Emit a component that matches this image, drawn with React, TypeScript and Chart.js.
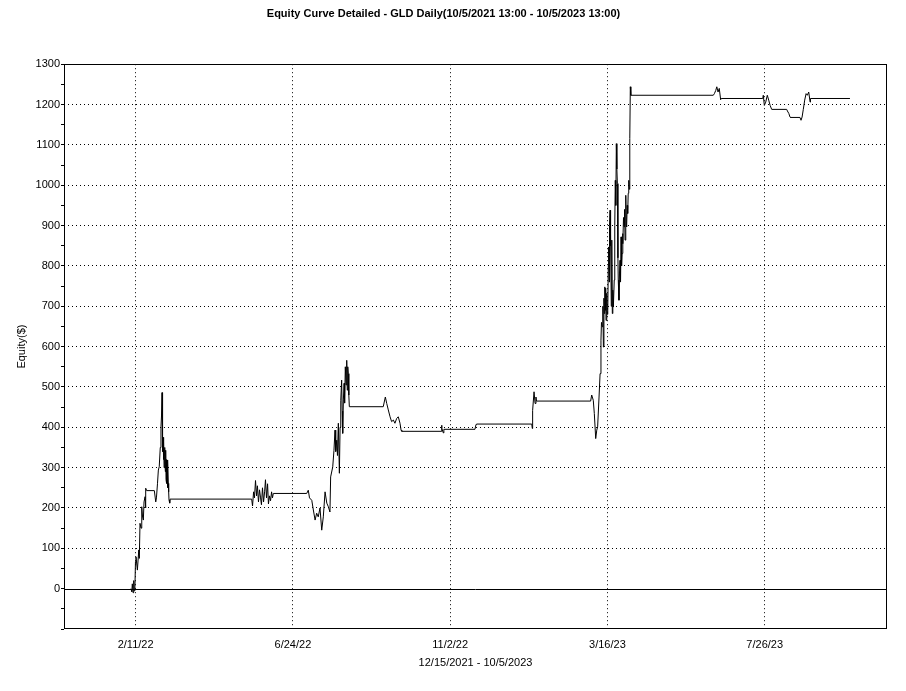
import React, { useEffect, useRef } from "react";
import { Chart, registerables } from "chart.js";

Chart.register(...registerables);

// Bar index (trading days since 12/15/2021) and equity ($)
const barIndex: number[] = [
  38.3, 38.8, 39.1, 39.5, 39.9, 40.2, 40.6, 40.9, 41.2, 42.0,
  42.8, 43.1, 43.5, 44.1, 44.5, 44.9, 45.4, 45.8, 46.4, 46.6,
  46.9, 47.3, 51.7, 52.5, 52.9, 53.5, 54.0, 54.5, 55.1, 55.5,
  55.8, 56.1, 56.3, 56.5, 56.7, 56.9, 57.1, 57.3, 57.5, 57.8,
  58.0, 58.2, 58.4, 58.6, 58.8, 59.0, 59.2, 59.4, 59.7, 59.9,
  60.1, 60.5, 60.7, 107.4, 107.9, 108.5, 109.0, 109.6, 110.2, 110.7,
  111.3, 111.9, 112.5, 113.0, 113.6, 114.2, 114.8, 115.3, 115.9, 116.5,
  117.0, 117.6, 118.2, 118.8, 119.3, 119.8, 138.9, 139.8, 140.5, 141.8,
  142.7, 143.7, 144.6, 145.5, 146.5, 147.5, 148.4, 149.4, 150.4, 151.3,
  152.2, 152.6, 153.8, 154.5, 155.1, 155.5, 156.1, 156.5, 157.0, 157.6,
  158.0, 158.4, 158.9, 159.2, 159.5, 159.9, 160.3, 160.6, 161.0, 161.4,
  161.8, 162.1, 162.4, 162.7, 163.0, 163.3, 182.7, 183.9, 184.7, 185.6,
  186.6, 187.5, 188.5, 189.4, 190.4, 191.3, 192.3, 192.9, 193.3, 215.8,
  216.1, 216.3, 217.1, 217.4, 235.2, 235.8, 236.1, 267.7, 268.0, 268.2,
  269.0, 269.6, 270.1, 270.4, 301.4, 302.0, 302.9, 303.5, 304.3, 304.9,
  305.4, 306.2, 306.8, 307.3, 307.6, 308.1, 308.4, 308.7, 309.0, 309.2,
  309.5, 309.8, 310.0, 310.2, 310.6, 310.9, 311.2, 311.5, 311.7, 312.0,
  312.2, 312.5, 312.7, 312.9, 313.2, 313.5, 313.8, 314.1, 314.4, 314.9,
  315.2, 315.5, 315.8, 316.1, 316.4, 316.7, 317.0, 317.2, 317.6, 317.9,
  318.2, 318.5, 318.8, 319.1, 319.4, 319.7, 319.9, 320.2, 320.5, 320.8,
  321.1, 321.5, 321.8, 322.0, 322.3, 322.6, 322.9, 323.2, 323.5, 323.8,
  324.1, 324.4, 371.6, 372.2, 373.0, 373.6, 374.3, 375.0, 375.8, 376.1,
  399.9, 400.2, 400.8, 401.6, 402.5, 403.3, 404.1, 405.0, 413.6, 414.0,
  414.8, 415.5, 415.8, 421.2, 421.8, 422.4, 423.1, 423.9, 424.7, 425.4,
  426.2, 427.0, 427.2, 449.8,
];

const equity: number[] = [
  0, -8, 12, -10, 20, -5, 5, 67, 79, 46,
  96, 75, 162, 150, 203, 180, 170, 215, 228, 200,
  249, 243, 243, 215, 225, 260, 294, 302, 350, 401,
  428, 486, 393, 340, 375, 320, 364, 300, 350, 327,
  290, 343, 270, 320, 261, 300, 250, 319, 261, 240,
  220, 212, 222, 222, 205, 240, 225, 268, 230, 255,
  215, 245, 225, 208, 250, 215, 240, 270, 225, 260,
  210, 230, 218, 240, 225, 236, 236, 244, 225, 219,
  195, 170, 187, 178, 200, 145, 178, 240, 212, 203,
  190, 277, 302, 343, 393, 340, 368, 330, 410, 286,
  400, 467, 517, 440, 385, 470, 509, 460, 550, 505,
  566, 492, 550, 533, 480, 451, 451, 475, 459, 443,
  426, 414, 418, 410, 422, 426, 410, 393, 390, 390,
  405, 397, 386, 395, 395, 407, 408, 408, 397, 442,
  488, 459, 475, 465, 465, 480, 467, 434, 372, 393,
  401, 475, 533, 616, 660, 649, 700, 599, 720, 682,
  748, 690, 745, 665, 732, 680, 690, 800, 847, 760,
  900, 938, 850, 880, 700, 864, 682, 740, 698, 765,
  900, 1012, 950, 1103, 1040, 1004, 820, 765, 715, 780,
  814, 760, 872, 800, 831, 880, 855, 920, 897, 940,
  864, 975, 900, 897, 950, 930, 980, 1012, 990, 1116,
  1244, 1223, 1223, 1227, 1235, 1244, 1231, 1240, 1212, 1215,
  1215, 1223, 1198, 1206, 1223, 1211, 1198, 1188, 1188, 1184,
  1178, 1169, 1168, 1168, 1161, 1169, 1188, 1211, 1227, 1223,
  1231, 1206, 1215, 1215,
];

const xTickIndex: number[] = [41, 131, 221, 311, 401];
const xTickLabels: string[] = ["2/11/22", "6/24/22", "11/2/22", "3/16/23", "7/26/23"];

const TITLE = "Equity Curve Detailed - GLD Daily(10/5/2021 13:00 - 10/5/2023 13:00)";
const X_TITLE = "12/15/2021 - 10/5/2023";
const Y_TITLE = "Equity($)";

const FONT = "'Liberation Sans', Arial, sans-serif";

const framePlugin = {
  id: "frameAndZero",
  beforeDatasetsDraw(chart: any) {
    const { ctx, chartArea, scales } = chart;
    const l = Math.round(chartArea.left) + 0.5;
    const r = Math.round(chartArea.right) - 0.5;
    const t = Math.round(chartArea.top) + 0.5;
    const b = Math.round(chartArea.bottom) - 0.5;
    ctx.save();
    ctx.setLineDash([]);
    ctx.strokeStyle = "#000";
    ctx.lineWidth = 1;
    ctx.strokeRect(l, t, r - l, b - t);
    const zy = Math.round(scales.y.getPixelForValue(0)) + 0.5;
    ctx.beginPath();
    ctx.moveTo(l, zy);
    ctx.lineTo(r, zy);
    ctx.stroke();
    ctx.restore();
  },
};

export default function App() {
  const canvasRef = useRef<HTMLCanvasElement | null>(null);

  useEffect(() => {
    document.body.style.margin = "0";
    const canvas = canvasRef.current;
    if (!canvas) return;
    const points = barIndex.map((x, i) => ({ x, y: equity[i] }));
    const chart = new Chart(canvas, {
      type: "line",
      data: {
        datasets: [
          {
            data: points,
            borderColor: "#000",
            borderWidth: 1,
            pointRadius: 0,
            tension: 0,
            fill: false,
          },
        ],
      },
      options: {
        animation: false,
        responsive: false,
        events: [],
        layout: { padding: { left: 0, right: 19, top: 0, bottom: 0 } },
        plugins: {
          legend: { display: false },
          tooltip: { enabled: false },
          title: {
            display: true,
            text: TITLE,
            color: "#000",
            font: { family: FONT, size: 11, weight: "bold" },
            padding: { top: 7, bottom: 44 },
          },
        },
        scales: {
          x: {
            type: "linear",
            min: 0,
            max: 471,
            afterBuildTicks: (scale: any) => {
              scale.ticks = xTickIndex.map((v) => ({ value: v }));
            },
            afterFit: (scale: any) => {
              scale.height = 62;
            },
            ticks: {
              autoSkip: false,
              maxRotation: 0,
              color: "#000",
              padding: 5,
              font: { family: FONT, size: 11 },
              callback: (value: any) => {
                const k = xTickIndex.indexOf(Number(value));
                return k >= 0 ? xTickLabels[k] : "";
              },
            },
            grid: {
              color: "#000",
              lineWidth: 1,
              tickLength: 4,
              tickColor: "rgba(0,0,0,0)",
            },
            border: { display: false, dash: [1, 3] },
            title: {
              display: true,
              text: X_TITLE,
              color: "#000",
              font: { family: FONT, size: 11 },
              padding: { top: 0, bottom: 21 },
            },
          },
          y: {
            type: "linear",
            min: -100,
            max: 1300,
            afterFit: (scale: any) => {
              scale.width = 64;
            },
            ticks: {
              stepSize: 50,
              autoSkip: false,
              color: "#000",
              padding: 1,
              font: { family: FONT, size: 11 },
              callback: (value: any) => {
                const v = Number(value);
                return v % 100 === 0 && v !== -100 ? String(v) : "";
              },
            },
            grid: {
              color: (ctx: any) => {
                const v = ctx.tick ? ctx.tick.value : NaN;
                return v % 100 === 0 && v !== 0 && v !== -100 && v !== 1300 ? "#000" : "rgba(0,0,0,0)";
              },
              lineWidth: 1,
              tickLength: 3,
              tickColor: "#000",
            },
            border: { display: false, dash: [1, 3] },
            title: {
              display: true,
              text: Y_TITLE,
              color: "#000",
              font: { family: FONT, size: 11 },
              padding: { top: 15, bottom: 0 },
            },
          },
        },
      },
      plugins: [framePlugin],
    } as any);
    return () => chart.destroy();
  }, []);

  return (
    <div style={{ position: "absolute", left: 0, top: 0, width: 906, height: 691, background: "#fff" }}>
      <canvas ref={canvasRef} width={906} height={691} style={{ display: "block" }} />
    </div>
  );
}
